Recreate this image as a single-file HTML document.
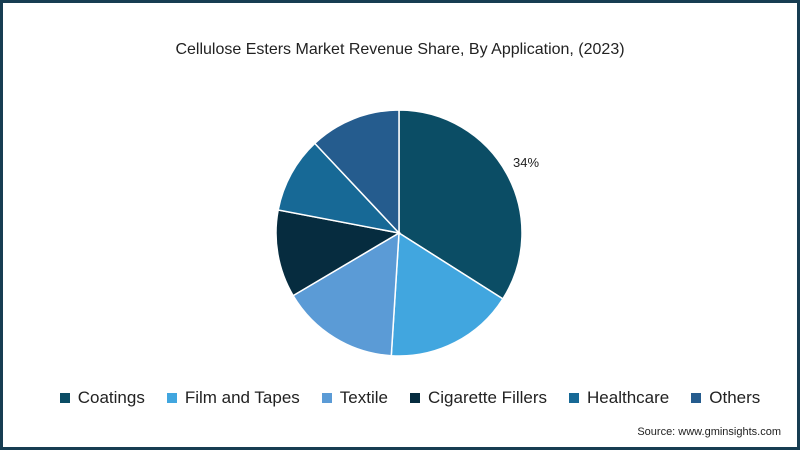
<!DOCTYPE html>
<html><head><meta charset="utf-8"><style>
html,body{margin:0;padding:0;background:#fff}
#frame{position:absolute;left:0;top:0;width:794px;height:444px;border:3px solid #173d52;background:#fff;font-family:"Liberation Sans",sans-serif}
#title{position:absolute;top:38px;left:0;width:794px;text-align:center;font-size:16px;color:#222}
#legend{position:absolute;top:385px;left:10px;width:794px;text-align:center;font-size:17px;color:#222;white-space:nowrap}
.li{display:inline-block;margin:0 11px}
.sw{display:inline-block;width:10px;height:10px;margin-right:8px}
#src{position:absolute;right:16px;top:423px;font-size:11px;color:#222}
</style></head><body>
<div id="frame">
<div id="title">Cellulose Esters Market Revenue Share, By Application, (2023)</div>
<svg id="pie" width="800" height="450" style="position:absolute;left:-3px;top:-3px"></svg>
<div id="legend"></div>
<div id="src">Source: www.gminsights.com</div>
</div>
<script>
const categories=["Coatings","Film and Tapes","Textile","Cigarette Fillers","Healthcare","Others"];
const shares=[34,17,15.5,11.5,10,12];
const colors=["#0b4d65","#41a6df","#5b9bd6","#062c3f","#176996","#255c8e"];
const labels=["34%","","","","",""];
const cx=399,cy=233,r=123;
const svg=document.getElementById('pie');
const ns="http://www.w3.org/2000/svg";
const total=shares.reduce((a,b)=>a+b,0);
function pt(a,rr){return [cx+rr*Math.sin(a),cy-rr*Math.cos(a)];}
let a0=0;
shares.forEach((v,i)=>{
 const a1=a0+v/total*2*Math.PI;
 const p0=pt(a0,r),p1=pt(a1,r);
 const large=(a1-a0)>Math.PI?1:0;
 const p=document.createElementNS(ns,'path');
 p.setAttribute('d',`M${cx},${cy} L${p0[0]},${p0[1]} A${r},${r} 0 ${large} 1 ${p1[0]},${p1[1]} Z`);
 p.setAttribute('fill',colors[i]);p.setAttribute('stroke','#fff');p.setAttribute('stroke-width','1.5');
 
 
 svg.appendChild(p);
 if(labels[i]){
  const m=(a0+a1)/2;const lp=pt(m,r+22);
  const t=document.createElementNS(ns,'text');
  t.setAttribute('x',lp[0]);t.setAttribute('y',lp[1]+4);
  t.setAttribute('text-anchor','middle');
  t.setAttribute('font-size','13');t.setAttribute('font-family','Liberation Sans, sans-serif');t.setAttribute('fill','#222');
  t.textContent=labels[i];
  
  
  svg.appendChild(t);
 }
 a0=a1;
});
const lg=document.getElementById('legend');
categories.forEach((c,i)=>{
 const s=document.createElement('span');s.className='li';
 
 
 s.innerHTML=`<span class="sw" style="background:${colors[i]}"></span>${c}`;
 lg.appendChild(s);
});
</script>
</body></html>
